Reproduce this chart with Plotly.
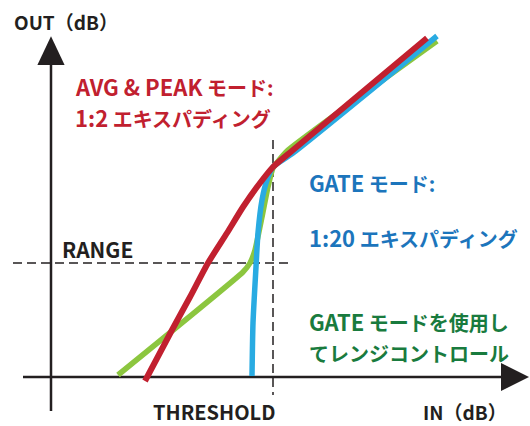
import plotly.graph_objects as go

# ---- data (IN / OUT in dB, origin at axis crossing) ----
red_in = [23.5, 30.25, 34.75, 39.25, 44.0, 48.0, 52.25, 55.5, 60.5, 94.0]
red_out = [-1.0, 11.75, 20.0, 28.5, 36.0, 42.5, 48.5, 52.5, 56.75, 84.75]

green_in = [16.75, 48.0, 49.75, 51.0, 52.75, 54.25, 55.5, 59.0, 96.5]
green_out = [0.5, 26.25, 28.5, 31.75, 40.0, 47.5, 52.25, 56.5, 84.0]

blue_in = [50.25, 50.5, 51.25, 51.75, 52.75, 54.0, 55.5, 60.5, 96.5]
blue_out = [0.25, 13.5, 27.5, 36.0, 44.25, 49.25, 52.5, 56.0, 85.25]

threshold_in = 55.5
range_out = 28.5

labels = {
    "out": "OUT（dB）",
    "in": "IN（dB）",
    "threshold": "THRESHOLD",
    "range": "RANGE",
    "avg1": ("AVG & PEAK", " モード:"),
    "avg2": ("1:2", " エキスパディング"),
    "gate1": ("GATE", " モード:"),
    "gate2": ("1:20", " エキスパディング"),
    "rng1": ("GATE", " モードを使用し"),
    "rng2": ("", "てレンジコントロール"),
}

# ---- styles ----
BLACK = "#231F20"
RED_L = "#C1202F"
GREEN_L = "#8CC63F"
BLUE_L = "#29ABE2"
RED_T = "#C1202F"
BLUE_T = "#1C75BC"
GREEN_T = "#197B3E"
FONT = "Noto Sans CJK JP"

X_RANGE = [-12.75, 119.75]
Y_RANGE = [-12.25, 94.25]

fig = go.Figure()

# axes
fig.add_trace(go.Scatter(x=[-7, 113], y=[0, 0], mode="lines",
                         line=dict(color=BLACK, width=2.5), hoverinfo="skip"))
fig.add_trace(go.Scatter(x=[0, 0], y=[-8.5, 78], mode="lines",
                         line=dict(color=BLACK, width=2.5), hoverinfo="skip"))

# dashed guides
fig.add_trace(go.Scatter(x=[threshold_in, threshold_in], y=[59.25, -4.5], mode="lines",
                         line=dict(color=BLACK, width=1.5, dash="9px,5px"), hoverinfo="skip"))
fig.add_trace(go.Scatter(x=[-9.5, 60.5], y=[range_out, range_out], mode="lines",
                         line=dict(color=BLACK, width=1.5, dash="9px,5px"), hoverinfo="skip"))

# curves
fig.add_trace(go.Scatter(x=green_in, y=green_out, mode="lines",
                         line=dict(color=GREEN_L, width=5.5, shape="spline", smoothing=0.4),
                         hoverinfo="skip"))
fig.add_trace(go.Scatter(x=blue_in, y=blue_out, mode="lines",
                         line=dict(color=BLUE_L, width=5.5, shape="spline", smoothing=0.6),
                         hoverinfo="skip"))
fig.add_trace(go.Scatter(x=red_in, y=red_out, mode="lines",
                         line=dict(color=RED_L, width=6, shape="spline", smoothing=0.6),
                         hoverinfo="skip"))

# arrowheads
fig.add_shape(type="path", path="M -3.4,78 L 3.4,78 L 0,85.2 Z",
              fillcolor=BLACK, line=dict(width=0))
fig.add_shape(type="path", path="M 112.5,3.5 L 112.5,-3.5 L 119.5,0 Z",
              fillcolor=BLACK, line=dict(width=0))


def txt(x, y, s, color, size):
    fig.add_annotation(x=x, y=y, text="<b>" + s + "</b>", showarrow=False,
                       xanchor="left", yanchor="middle",
                       font=dict(family=FONT, size=size, color=color))


def mixed(x, y, parts, color):
    latin, cjk = parts
    s = ""
    if latin:
        s += '<span style="font-size:22px">' + latin + "</span>"
    s += cjk
    txt(x, y, s, color, 20)


txt(-9.75, 89.0, labels["out"], BLACK, 19)
txt(92.5, -8.5, labels["in"], BLACK, 19)
txt(25.0, -8.5, labels["threshold"], BLACK, 20)
txt(2.25, 32.0, labels["range"], BLACK, 21)
mixed(5.5, 72.75, labels["avg1"], RED_T)
mixed(5.5, 65.0, labels["avg2"], RED_T)
mixed(64.0, 48.75, labels["gate1"], BLUE_T)
mixed(64.0, 35.0, labels["gate2"], BLUE_T)
mixed(64.0, 14.0, labels["rng1"], GREEN_T)
mixed(64.0, 6.0, labels["rng2"], GREEN_T)

fig.update_layout(
    width=530, height=426,
    margin=dict(l=0, r=0, t=0, b=0),
    paper_bgcolor="white", plot_bgcolor="white",
    showlegend=False,
    xaxis=dict(range=X_RANGE, visible=False, fixedrange=True),
    yaxis=dict(range=Y_RANGE, visible=False, fixedrange=True),
)

fig.write_html("out.html", config={"displayModeBar": False},
               post_script="document.body.style.margin='0';document.body.style.overflow='hidden';")
